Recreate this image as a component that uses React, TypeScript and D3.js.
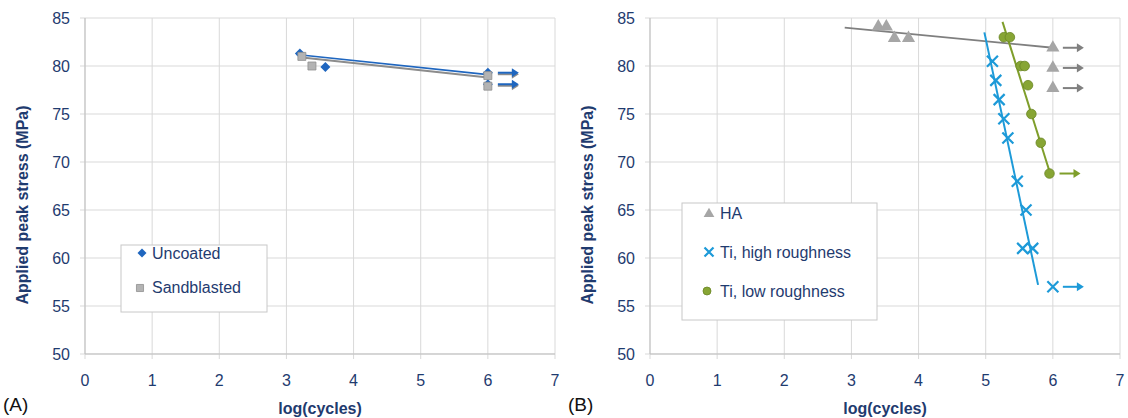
import React from 'react';
import * as d3 from 'd3';

// axes
const xTicks = [0, 1, 2, 3, 4, 5, 6, 7];
const yTicks = [50, 55, 60, 65, 70, 75, 80, 85];

// panel A
const uncoatedX = [3.2, 3.58, 6.0, 6.0];
const uncoatedY = [81.3, 79.9, 79.3, 78.1];
const uncoatedRunout = [false, false, true, true];
const sandX = [3.23, 3.38, 6.0, 6.0];
const sandY = [81.0, 80.0, 79.0, 77.9];
const uncoatedFitX = [3.15, 6.0];
const uncoatedFitY = [81.2, 79.1];
const sandFitX = [3.2, 6.0];
const sandFitY = [80.9, 78.8];

// panel B
const haX = [3.4, 3.52, 3.64, 3.85, 6.0, 6.0, 6.0];
const haY = [84.1, 84.1, 82.9, 82.9, 81.9, 79.8, 77.7];
const haRunout = [false, false, false, false, true, true, true];
const tiHighX = [5.1, 5.15, 5.2, 5.27, 5.33, 5.47, 5.6, 5.55, 5.7, 6.0];
const tiHighY = [80.5, 78.5, 76.5, 74.5, 72.5, 68, 65, 61, 61, 57];
const tiHighRunout = [false, false, false, false, false, false, false, false, false, true];
const tiLowX = [5.27, 5.36, 5.52, 5.58, 5.63, 5.68, 5.82, 5.95];
const tiLowY = [83, 83, 80, 80, 78, 75, 72, 68.8];
const tiLowRunout = [false, false, false, false, false, false, false, true];
const haFitX = [2.9, 6.0];
const haFitY = [84.0, 81.9];
const tiHighFitX = [4.98, 5.78];
const tiHighFitY = [83.5, 57.2];
const tiLowFitX = [5.25, 5.96];
const tiLowFitY = [84.6, 68.8];

const navy = '#1f3b6f';
const font = 'Liberation Sans, Arial, sans-serif';
const fs = 16;

function Arrow({ x, y, color }: { x: number; y: number; color: string }) {
  // runout arrow starting right of the point
  return (
    <g>
      <line x1={x + 10} y1={y} x2={x + 25} y2={y} stroke={color} strokeWidth={2} />
      <path d={`M${x + 31},${y} L${x + 24},${y - 4.5} L${x + 24},${y + 4.5} Z`} fill={color} />
    </g>
  );
}

function Panel({ left, label, children }: { left: number; label: string; children: (x: any, y: any) => React.ReactNode }) {
  const x = d3.scaleLinear().domain([0, 7]).range([left, left + 470]);
  const y = d3.scaleLinear().domain([50, 85]).range([354, 18]);
  return (
    <g fontFamily={font}>
      {xTicks.map(t => (
        <line key={'gx' + t} x1={x(t)} x2={x(t)} y1={y(85)} y2={y(50) + 5} stroke="#d9d9d9" />
      ))}
      {yTicks.map(t => (
        <line key={'gy' + t} x1={x(0) - 5} x2={x(7)} y1={y(t)} y2={y(t)} stroke="#d9d9d9" />
      ))}
      <line x1={x(0)} x2={x(0)} y1={y(85)} y2={y(50)} stroke="#bfbfbf" />
      <line x1={x(0)} x2={x(7)} y1={y(50)} y2={y(50)} stroke="#bfbfbf" />
      {yTicks.map(t => (
        <text key={'ty' + t} x={x(0) - 15} y={y(t)} dy="0.35em" textAnchor="end" fontSize={fs} fill={navy}>{t}</text>
      ))}
      {xTicks.map(t => (
        <text key={'tx' + t} x={x(t)} y={380} dy="0.35em" textAnchor="middle" fontSize={fs} fill={navy}>{t}</text>
      ))}
      <text x={x(3.5)} y={408} dy="0.35em" textAnchor="middle" fontSize={fs} fontWeight="bold" fill={navy}>log(cycles)</text>
      <text transform={`translate(${x(0) - 63},205) rotate(-90)`} textAnchor="middle" dy="0.35em" fontSize={fs} fontWeight="bold" fill={navy}>Applied peak stress (MPa)</text>
      <text x={x(0) - 82} y={404} dy="0.35em" fontSize={19} fill="#111">{label}</text>
      {children(x, y)}
    </g>
  );
}

const diamond = (s: number) => `M0,${-s}L${s},0L0,${s}L${-s},0Z`;
const square = d3.symbol(d3.symbolSquare, 64)() as string;
const triangle = d3.symbol(d3.symbolTriangle, 75)() as string;

function Cross({ cx, cy, color, s = 5.5 }: { cx: number; cy: number; color: string; s?: number }) {
  return (
    <path d={`M${cx - s},${cy - s}L${cx + s},${cy + s}M${cx - s},${cy + s}L${cx + s},${cy - s}`} stroke={color} strokeWidth={2.2} fill="none" />
  );
}

export default function App() {
  const blue = '#1f66bf';
  const gray = '#a6a6a6';
  const cyan = '#1d9ad8';
  const green = '#7f9e2b';
  return (
    <div style={{ position: 'absolute', left: 0, top: 0 }}>
      <svg width={1128} height={418} style={{ display: 'block', background: '#fff' }}>
        <Panel left={85} label="(A)">
          {(x, y) => (
            <g>
              <line x1={x(sandFitX[0])} y1={y(sandFitY[0])} x2={x(sandFitX[1])} y2={y(sandFitY[1])} stroke="#8c8c8c" strokeWidth={2} />
              <line x1={x(uncoatedFitX[0])} y1={y(uncoatedFitY[0])} x2={x(uncoatedFitX[1])} y2={y(uncoatedFitY[1])} stroke={blue} strokeWidth={1.6} />
              {uncoatedX.map((v, i) => (
                <path key={'u' + i} d={diamond(5)} transform={`translate(${x(v)},${y(uncoatedY[i])})`} fill={blue} />
              ))}
              {sandX.map((v, i) => (
                <path key={'s' + i} d={square} transform={`translate(${x(v)},${y(sandY[i])})`} fill="#b3b3b3" stroke="#8f8f8f" strokeWidth={0.8} />
              ))}
              {uncoatedX.map((v, i) => uncoatedRunout[i] ? (
                <g key={'ua' + i}>
                  <Arrow x={x(v)} y={y(uncoatedY[i]) + 1.5} color="#8c8c8c" />
                  <Arrow x={x(v)} y={y(uncoatedY[i])} color={blue} />
                </g>
              ) : null)}
              <rect x={121} y={245} width={146} height={67} fill="#fff" stroke="#c8c8c8" />
              <path d={diamond(4.5)} transform="translate(142,253)" fill={blue} />
              <text x={152} y={253} dy="0.35em" fontSize={fs} fill={navy}>Uncoated</text>
              <path d={d3.symbol(d3.symbolSquare, 50)() as string} transform="translate(140,288)" fill="#b3b3b3" stroke="#8f8f8f" strokeWidth={0.8} />
              <text x={152} y={287} dy="0.35em" fontSize={fs} fill={navy}>Sandblasted</text>
            </g>
          )}
        </Panel>
        <Panel left={650} label="(B)">
          {(x, y) => (
            <g>
              <line x1={x(haFitX[0])} y1={y(haFitY[0])} x2={x(haFitX[1])} y2={y(haFitY[1])} stroke="#7f7f7f" strokeWidth={1.8} />
              <line x1={x(tiHighFitX[0])} y1={y(tiHighFitY[0])} x2={x(tiHighFitX[1])} y2={y(tiHighFitY[1])} stroke={cyan} strokeWidth={2} />
              <line x1={x(tiLowFitX[0])} y1={y(tiLowFitY[0])} x2={x(tiLowFitX[1])} y2={y(tiLowFitY[1])} stroke={green} strokeWidth={2} />
              {haX.map((v, i) => (
                <g key={'h' + i}>
                  <path d={triangle} transform={`translate(${x(v)},${y(haY[i])})`} fill={gray} />
                  {haRunout[i] ? <Arrow x={x(v)} y={y(haY[i])} color="#808080" /> : null}
                </g>
              ))}
              {tiHighX.map((v, i) => (
                <g key={'t' + i}>
                  <Cross cx={x(v)} cy={y(tiHighY[i])} color={cyan} />
                  {tiHighRunout[i] ? <Arrow x={x(v)} y={y(tiHighY[i])} color={cyan} /> : null}
                </g>
              ))}
              {tiLowX.map((v, i) => (
                <g key={'l' + i}>
                  <circle cx={x(v)} cy={y(tiLowY[i])} r={4.8} fill="#87a534" stroke="#6a8524" strokeWidth={0.8} />
                  {tiLowRunout[i] ? <Arrow x={x(v)} y={y(tiLowY[i])} color={green} /> : null}
                </g>
              ))}
              <rect x={682} y={203} width={195} height={117} fill="#fff" stroke="#c8c8c8" />
              <path d={d3.symbol(d3.symbolTriangle, 50)() as string} transform="translate(709,214)" fill={gray} />
              <text x={720} y={213} dy="0.35em" fontSize={fs} fill={navy}>HA</text>
              <Cross cx={709} cy={252} color={cyan} s={4.5} />
              <text x={720} y={252} dy="0.35em" fontSize={fs} fill={navy}>Ti, high roughness</text>
              <circle cx={707} cy={291} r={4} fill="#87a534" stroke="#6a8524" strokeWidth={0.8} />
              <text x={720} y={291} dy="0.35em" fontSize={fs} fill={navy}>Ti, low roughness</text>
            </g>
          )}
        </Panel>
      </svg>
    </div>
  );
}
